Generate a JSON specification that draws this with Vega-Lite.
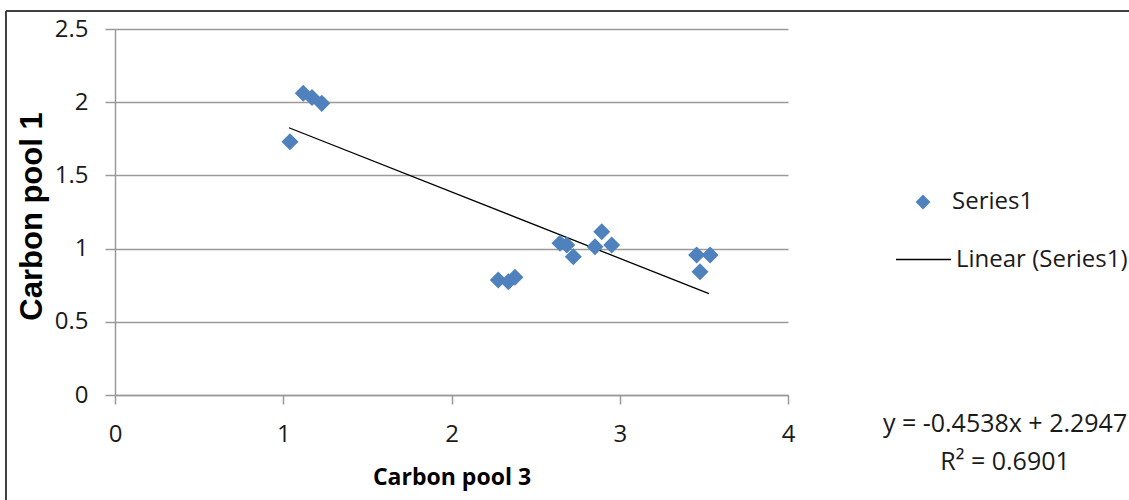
{
  "$schema": "https://vega.github.io/schema/vega-lite/v6.json",
  "autosize": "none",
  "width": 673,
  "height": 366,
  "padding": {"left": 115, "top": 29, "right": 341, "bottom": 105},
  "background": "#ffffff",
  "config": {
    "view": {"stroke": null},
    "font": "Open Sans",
    "axis": {
      "labelFont": "Open Sans",
      "labelFontSize": 24,
      "labelColor": "#1a1a1a",
      "labelFlush": false,
      "domainColor": "#9a9a9a",
      "tickColor": "#9a9a9a",
      "gridColor": "#9a9a9a",
      "domainWidth": 1.5,
      "tickWidth": 1.5,
      "gridWidth": 1.5,
      "tickSize": 9
    },
    "legend": {
      "labelFont": "Open Sans",
      "labelFontSize": 24,
      "labelColor": "#1a1a1a",
      "labelLimit": 400,
      "padding": 0
    }
  },
  "datasets": {
    "pts": [
      {"pool3": 1.040, "pool1": 1.730, "series": "Series1"},
      {"pool3": 1.119, "pool1": 2.061, "series": "Series1"},
      {"pool3": 1.171, "pool1": 2.032, "series": "Series1"},
      {"pool3": 1.229, "pool1": 1.992, "series": "Series1"},
      {"pool3": 2.278, "pool1": 0.786, "series": "Series1"},
      {"pool3": 2.338, "pool1": 0.774, "series": "Series1"},
      {"pool3": 2.377, "pool1": 0.804, "series": "Series1"},
      {"pool3": 2.645, "pool1": 1.036, "series": "Series1"},
      {"pool3": 2.685, "pool1": 1.025, "series": "Series1"},
      {"pool3": 2.724, "pool1": 0.945, "series": "Series1"},
      {"pool3": 2.853, "pool1": 1.013, "series": "Series1"},
      {"pool3": 2.893, "pool1": 1.115, "series": "Series1"},
      {"pool3": 2.952, "pool1": 1.025, "series": "Series1"},
      {"pool3": 3.457, "pool1": 0.956, "series": "Series1"},
      {"pool3": 3.477, "pool1": 0.842, "series": "Series1"},
      {"pool3": 3.537, "pool1": 0.956, "series": "Series1"}
    ],
    "trend": [
      {"pool3": 1.034, "pool1": 1.8255, "fit": "Linear (Series1)"},
      {"pool3": 3.530, "pool1": 0.6928, "fit": "Linear (Series1)"}
    ]
  },
  "layer": [
    {
      "data": {"name": "trend"},
      "mark": {"type": "line", "strokeWidth": 1.3, "clip": false},
      "encoding": {
        "x": {
          "field": "pool3", "type": "quantitative",
          "scale": {"domain": [0, 4], "nice": false, "zero": false},
          "axis": {
            "title": "Carbon pool 3",
            "titleFont": "Open Sans",
            "titleFontWeight": "bold",
            "titleFontSize": 23,
            "titleColor": "#000000",
            "titlePadding": 20,
            "values": [0, 1, 2, 3, 4],
            "format": "~g",
            "grid": false,
            "labelPadding": 18
          }
        },
        "y": {
          "field": "pool1", "type": "quantitative",
          "scale": {"domain": [0, 2.5], "nice": false, "zero": false},
          "axis": {
            "title": "Carbon pool 1",
            "titleFont": "Liberation Sans",
            "titleFontWeight": "bold",
            "titleFontSize": 31,
            "titleColor": "#000000",
            "titlePadding": 6,
            "titleY": 187,
            "values": [0, 0.5, 1, 1.5, 2, 2.5],
            "format": "~g",
            "grid": true,
            "labelPadding": 17,
            "tickSize": 10
          }
        },
        "color": {
          "field": "fit", "type": "nominal",
          "scale": {"domain": ["Linear (Series1)"], "range": ["#000000"]},
          "legend": {
            "orient": "none",
            "legendX": 780,
            "legendY": 202,
            "title": null,
            "symbolType": "stroke",
            "symbolSize": 3025,
            "symbolStrokeWidth": 1.5,
            "labelOffset": 4
          }
        }
      }
    },
    {
      "data": {"name": "pts"},
      "mark": {"type": "point", "filled": true, "color": "#4F81BD", "opacity": 1, "size": 290, "clip": false},
      "encoding": {
        "x": {"field": "pool3", "type": "quantitative"},
        "y": {"field": "pool1", "type": "quantitative"},
        "shape": {
          "field": "series", "type": "nominal",
          "scale": {"domain": ["Series1"], "range": ["diamond"]},
          "legend": {
            "orient": "none",
            "legendX": 796,
            "legendY": 161,
            "title": null,
            "symbolSize": 220,
            "symbolFillColor": "#4F81BD",
            "symbolStrokeColor": "#4F81BD",
            "symbolOpacity": 1,
            "labelOffset": 17
          }
        }
      }
    },
    {
      "data": {"values": [{}]},
      "mark": {"type": "text", "text": "y = -0.4538x + 2.2947", "font": "Open Sans", "fontSize": 25, "color": "#1a1a1a", "align": "center", "baseline": "middle", "clip": false},
      "encoding": {"x": {"datum": 5.29}, "y": {"datum": -0.2}}
    },
    {
      "data": {"values": [{}]},
      "mark": {"type": "text", "text": "R² = 0.6901", "font": "Open Sans", "fontSize": 25, "color": "#1a1a1a", "align": "center", "baseline": "middle", "clip": false},
      "encoding": {"x": {"datum": 5.29}, "y": {"datum": -0.457}}
    },
    {
      "data": {"values": [{}]},
      "mark": {"type": "rule", "color": "#404040", "strokeWidth": 2, "clip": false},
      "encoding": {"x": {"datum": -0.648}, "x2": {"datum": 6.2}, "y": {"datum": 2.623}}
    },
    {
      "data": {"values": [{}]},
      "mark": {"type": "rule", "color": "#404040", "strokeWidth": 2, "clip": false},
      "encoding": {"x": {"datum": -0.648}, "y": {"datum": 2.623}, "y2": {"datum": -0.8}}
    }
  ]
}
